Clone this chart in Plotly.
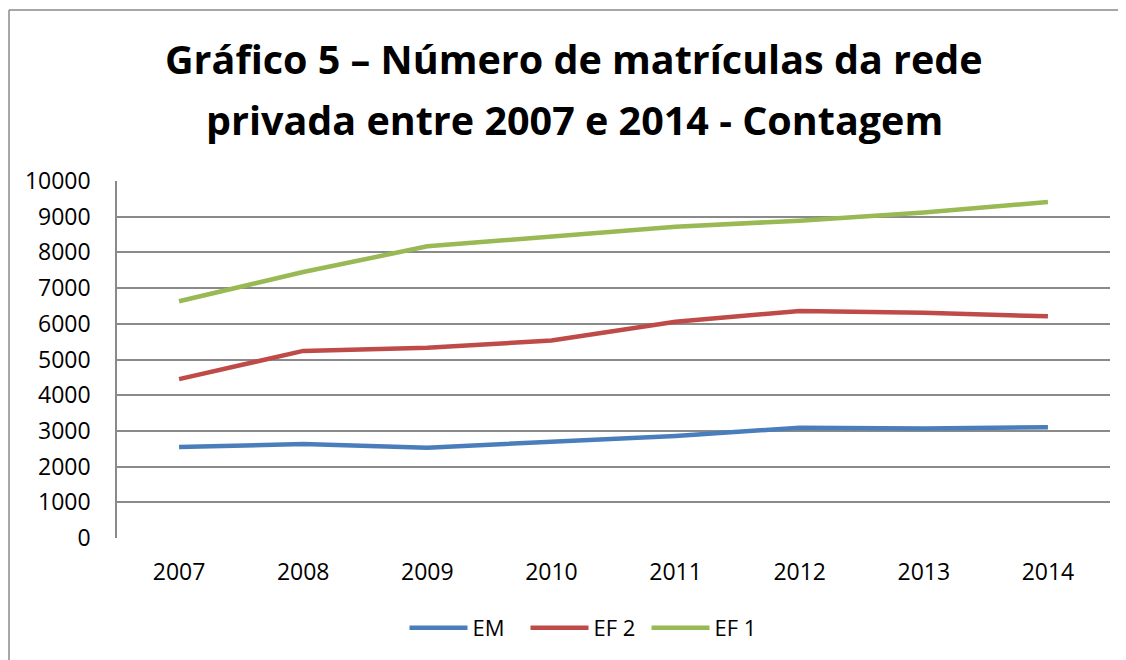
import plotly.graph_objects as go

years = ["2007", "2008", "2009", "2010", "2011", "2012", "2013", "2014"]
em = [2550, 2630, 2530, 2680, 2860, 3090, 3070, 3100]
ef2 = [4450, 5240, 5330, 5530, 6060, 6360, 6310, 6210]
ef1 = [6630, 7450, 8170, 8460, 8720, 8890, 9120, 9410]
y_ticks = [0, 1000, 2000, 3000, 4000, 5000, 6000, 7000, 8000, 9000, 10000]
title_lines = ["Gráfico 5 – Número de matrículas da rede",
               "privada entre 2007 e 2014 - Contagem"]

# page body has an 8px margin: screen = figure + 8
OFF = 8
W, H = 1126, 660
L, T = 117 - OFF, 181 - OFF
R = W - (1110 - OFF)
B = H - (538 - OFF)
pw, ph = W - L - R, H - T - B

def px_x(p):
    return (p - OFF - L) / pw

def px_y(p):
    return (H - B - (p - OFF)) / ph

FONT = "Open Sans"
grid = "#8a8a8a"

fig = go.Figure()
series = [("EM", em, "#4A7EBB"), ("EF 2", ef2, "#BE4B48"), ("EF 1", ef1, "#98B954")]
for name, vals, col in series:
    fig.add_trace(go.Scatter(x=years, y=vals, name=name, mode="lines",
                             line=dict(color=col, width=4.5)))

fig.update_layout(
    width=W, height=H,
    margin=dict(l=L, r=R, t=T, b=B, pad=0, autoexpand=False),
    paper_bgcolor="white", plot_bgcolor="white",
    font=dict(family=FONT, size=23, color="black"),
    showlegend=True,
    legend=dict(orientation="h", x=px_x(586), xanchor="center", y=px_y(628), yanchor="middle",
                font=dict(size=22), itemwidth=58, tracegroupgap=0,
                entrywidth=48, entrywidthmode="pixels"),
    xaxis=dict(type="category", range=[-0.5, 7.5], showgrid=False, zeroline=False,
               showline=False, ticks="", ticklabelstandoff=18),
    yaxis=dict(range=[0, 10000], tickvals=y_ticks, tickformat="d", showgrid=True,
               gridcolor=grid, gridwidth=1.5, zeroline=False, showline=True,
               linecolor=grid, linewidth=1.5, ticks="", ticklabelstandoff=20),
)

for i, t in enumerate(title_lines):
    fig.add_annotation(text="<b>" + t + "</b>", xref="paper", yref="paper",
                       x=px_x(574), y=px_y([59, 120][i]), xanchor="center", yanchor="middle",
                       showarrow=False, font=dict(family=FONT, size=39.5, color="black"))

# outer chart border (left and top visible)
fig.add_shape(type="line", xref="paper", yref="paper", x0=px_x(9), x1=px_x(1140),
              y0=px_y(10), y1=px_y(10), line=dict(color=grid, width=1.5))
fig.add_shape(type="line", xref="paper", yref="paper", x0=px_x(9), x1=px_x(9),
              y0=px_y(10), y1=px_y(680), line=dict(color=grid, width=1.5))

fig.write_html("out.html")
